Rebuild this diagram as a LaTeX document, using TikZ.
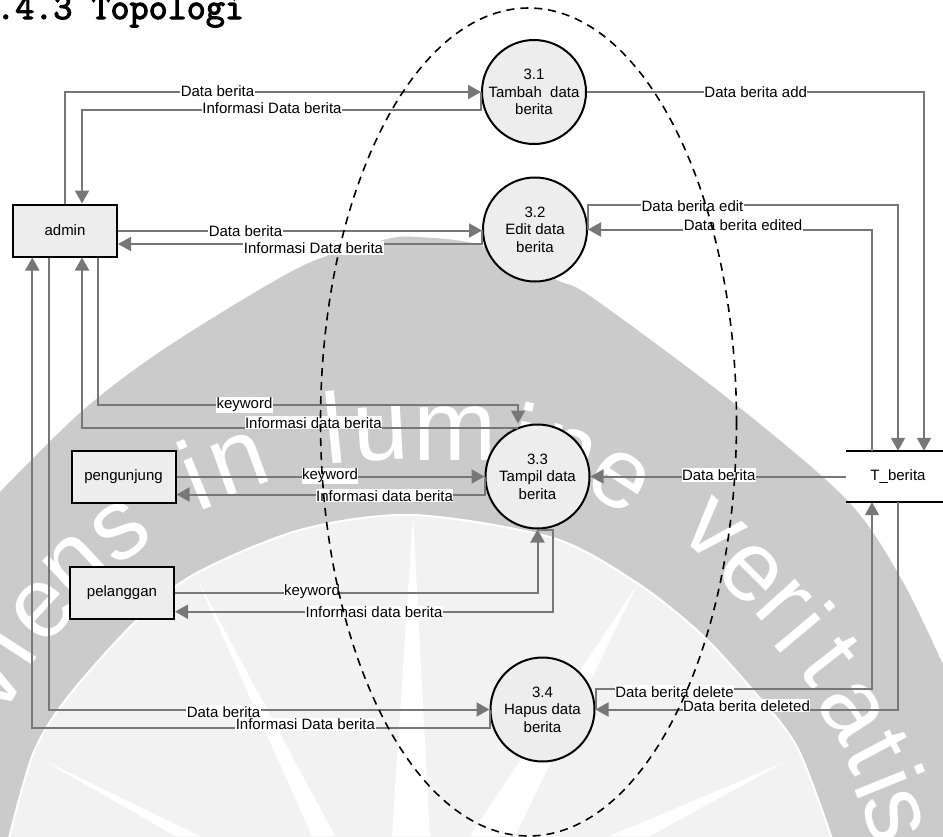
\documentclass[tikz,border=0pt]{standalone}
\usepackage{fontspec}
\setmainfont{Liberation Sans}
\newfontfamily\judulfont[FakeBold=3]{Latin Modern Mono}
\usetikzlibrary{arrows.meta}
\definecolor{linegray}{HTML}{777777}
\definecolor{boxfill}{HTML}{EDEDED}
\definecolor{wmgray}{HTML}{CBCBCB}
\definecolor{wmlight}{HTML}{F2F2F2}
\begin{document}
\begin{tikzpicture}[
  x=1pt, y=-1pt,
  every node/.style={font=\fontsize{15}{17.6}\selectfont},
  arr/.style={->, >={Triangle[length=13pt,width=14pt]}, draw=linegray, line width=2pt},
  entity/.style={draw=black, fill=boxfill, line width=2pt, minimum width=104pt, minimum height=52pt, inner sep=0pt},
  proc/.style={circle, draw=black, fill=boxfill, line width=2pt, minimum size=104pt, inner sep=0pt, align=center},
  store/.style={minimum width=104pt, minimum height=51pt, inner sep=0pt},
  msg/.style={fill=white, inner xsep=0.5pt, inner ysep=1pt},
  spoke/.style={fill=white, draw=none},
  wmletter/.style={font=\fontsize{100}{100}\selectfont, text=white, inner sep=0pt, anchor=base}
]
\useasboundingbox (0,0) rectangle (943,836);

% Watermark
\fill[wmgray] plot[smooth] coordinates {(-5,497) (82,411) (167,347) (300,267) (383,240) (417,237) (480,245) (557,280) (593,298) (730,400) (847,500) (903,582) (950,680)}
  -- (950,840) -- (-5,840) -- cycle;
\fill[wmlight, draw=white, line width=2pt] plot[smooth] coordinates {(8,842) (33,754) (67,698) (133,624) (193,575) (300,530) (413,515) (553,538) (637,583) (700,633) (750,687) (797,747) (833,842)} -- cycle;
\fill[spoke] (413,515) -- (392,836) -- (430,836) -- cycle;
\fill[spoke] (637,585) -- (470,836) -- (515,836) -- cycle;
\fill[spoke] (785,762) -- (610,836) -- (650,836) -- cycle;
\fill[spoke] (197,579) -- (312,836) -- (335,836) -- cycle;
\fill[spoke] (43,760) -- (175,836) -- (200,836) -- cycle;
\foreach \ltr/\bx/\by/\ang [count=\i] in {v/15/697/60, i/35/661/57, e/62/628/47, n/94/586/43, s/136/553/35,
    i/208/508/22, n/249/489/20, l/338/463/6, u/382/460/3, m/455/460/0, i/515/474/-12, n/558/480/-20, e/605/503/-33,
    v/695/550/-42, e/732/592/-45, r/763/622/-48, i/778/650/-50, t/805/679/-52, a/830/726/-57, t/849/766/-62, i/857/795/-68, s/868/824/-72}
  \node[wmletter, rotate=\ang] (wm\i) at (\bx,\by) {\ltr};

% Title
\node[font=\fontsize{37}{37}\judulfont, anchor=base west, inner sep=0pt] (judul) at (-4,19) {.4.3 Topologi};

% Entities
\node[entity] (adm) at (65,230.5) {admin};
\node[entity] (pen) at (123.5,476.5) {pengunjung};
\node[entity] (pel) at (122,593) {pelanggan};

% Processes
\node[proc] (p31) at (534,92) {3.1\\Tambah\ \ data\\berita};
\node[proc] (p32) at (535,229.5) {3.2\\Edit data\\berita};
\node[proc] (p33) at (537.5,476.5) {3.3\\Tampil data\\berita};
\node[proc] (p34) at (542.5,709.5) {3.4\\Hapus data\\berita};

% Data store
\node[store] (tb) at (898,476.5) {T\_berita};
\draw[line width=2pt] (tb.north west) -- (tb.north east);
\draw[line width=2pt] (tb.south west) -- (tb.south east);

% Flows 3.1
\draw[arr] (adm.north) |- (p31.west);
\draw[arr] (p31.west) -- ++(0,18) -| ([xshift=17pt]adm.north);
\draw[arr] (p31.east) -| ([xshift=26pt]tb.north);

% Flows 3.2
\draw[arr] (adm.east) -- (adm.east -| p32.west);
\draw[arr] (p32.west) -- ++(0,14.5) -- ([yshift=-13.5pt]adm.east);
\draw[arr] (p32.east) -- ++(0,-25) -| (tb.north);
\draw[arr] ([xshift=-26pt]tb.north) |- (p32.east);

% Flows 3.3
\draw[arr] ([xshift=33pt]adm.south) |- ([shift={(-19.5pt,19pt)}]p33.north) -- ([xshift=-19.5pt]p33.north);
\draw[arr] ([shift={(-19.5pt,-4pt)}]p33.north) -| ([xshift=17pt]adm.south);
\draw[arr] (pen.east) -- (p33.west);
\draw[arr] (p33.west) -- ++(0,18) -- ([yshift=-18pt]pen.east);
\draw[arr] (pel.east) -| (p33.south);
\draw[arr] (p33.south) -- ++(15,0) |- ([yshift=-18.7pt]pel.east);
\draw[arr] (tb.west) -- (p33.east);

% Flows 3.4
\draw[arr] ([xshift=-16.3pt]adm.south) |- (p34.west);
\draw[arr] (p34.west) -- ++(0,18.5) -| ([xshift=-32.7pt]adm.south);
\draw[arr] (p34.east) -- ++(0,-20.5) -| ([xshift=-26pt]tb.south);
\draw[arr] (tb.south) |- (p34.east);

% Labels
\node[msg] (m1) at (217.5,91) {Data berita};
\node[msg] (m2) at (272,108) {Informasi Data berita};
\node[msg] (m3) at (755.7,92) {Data berita add};
\node[msg] (m4) at (245.5,231) {Data berita};
\node[msg] (m5) at (313.5,248) {Informasi Data berita};
\node[msg] (m6) at (692.5,206) {Data berita edit};
\node[msg] (m7) at (743,225) {Data berita edited};
\node[msg] (m8) at (244.5,405) {keyword};
\node[msg] (m9) at (313.4,422.7) {Informasi data berita};
\node[msg] (m10) at (330,475.7) {keyword};
\node[msg] (m11) at (384.6,495.7) {Informasi data berita};
\node[msg] (m12) at (312,592) {keyword};
\node[msg] (m13) at (374,612) {Informasi data berita};
\node[msg] (m14) at (718.7,475) {Data berita};
\node[msg] (m15) at (223.5,711.7) {Data berita};
\node[msg] (m16) at (305.4,724) {Informasi Data berita};
\node[msg] (m17) at (674.5,691.7) {Data berita delete};
\node[msg] (m18) at (746.5,705.7) {Data berita deleted};

% Scope boundary
\draw[dash pattern=on 8pt off 6pt, line width=1.6pt] (528.5,422) ellipse [x radius=208, y radius=414];

\end{tikzpicture}
\end{document}
